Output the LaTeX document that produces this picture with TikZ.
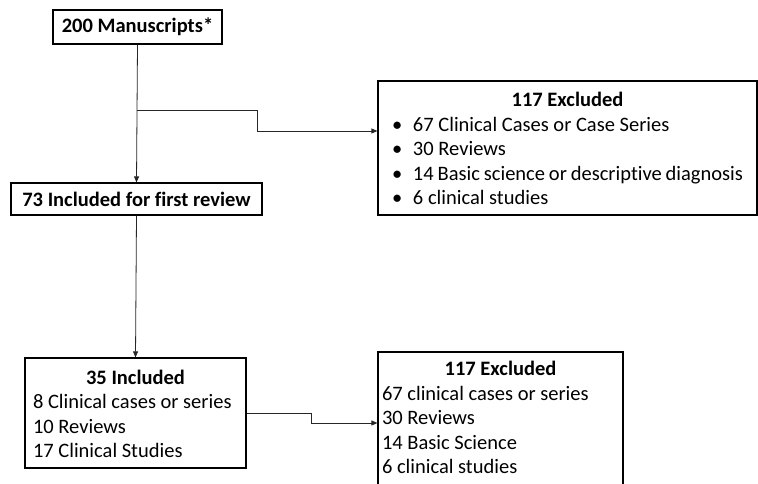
\documentclass[tikz,border=0pt]{standalone}
\usepackage{fontspec}
\setmainfont[Ligatures={NoCommon}]{Carlito}
\usetikzlibrary{arrows.meta}
\begin{document}
\begin{tikzpicture}[x=1pt,y=-1pt,
  box/.style={draw=black,line width=1.2pt,rectangle,inner ysep=0pt,
    font=\fontsize{20.5}{24.5}\selectfont},
  conn/.style={draw=black!85,line width=0.8pt},
  arr/.style={conn,-{Triangle[length=6pt,width=5pt]}}]
\useasboundingbox (0,0) rectangle (758,484);
\node[box,minimum width=169pt,minimum height=34pt,inner xsep=0pt] (box1) at (137.5,27) {\textbf{200 Manuscripts*}};
\node[box,minimum width=251pt,minimum height=32pt,inner xsep=0pt] (box2) at (136.5,199) {\textbf{73 Included for first review}};
\node[box,minimum width=379pt,minimum height=134pt,inner xsep=14pt] (box3) at (567.5,148) {%
  \begin{tabular}{@{}p{351pt}@{}}
  \multicolumn{1}{c}{\rule{0pt}{23pt}\textbf{117 Excluded}}\\
  \makebox[21pt][l]{\textbullet}67 Clinical Cases or Case Series\\
  \makebox[21pt][l]{\textbullet}30 Reviews\\
  \makebox[21pt][l]{\textbullet}14 Basic science or descriptive diagnosis\\
  \makebox[21pt][l]{\textbullet}6 clinical studies
  \end{tabular}};
\node[box,minimum width=221pt,minimum height=110pt,inner xsep=8pt] (box4) at (135.5,413) {%
  \begin{tabular}{@{}p{205pt}@{}}
  \multicolumn{1}{c}{\rule{0pt}{23pt}\textbf{35 Included}}\\
  8 Clinical cases or series\\
  10 Reviews\\
  17 Clinical Studies
  \end{tabular}};
\node[box,minimum width=245pt,minimum height=138pt,inner xsep=4pt] (box5) at (500.5,421) {%
  \begin{tabular}{@{}p{237pt}@{}}
  \multicolumn{1}{c}{\rule{0pt}{21pt}\textbf{117 Excluded}}\\
  67 clinical cases or series\\
  30 Reviews\\
  14 Basic Science\\
  6 clinical studies\rule[-13.4pt]{0pt}{1pt}
  \end{tabular}};
\coordinate (b1) at (136.5,110);
\draw[arr] (box1.south) -- (box2.north);
\draw[arr] (b1) -- (257,110) |- (box3.west |- 0,131);
\draw[arr] (box2.south) -- (box4.north);
\draw[arr] (box4.east) -- (311,413) |- (box5.west |- 0,423);
\end{tikzpicture}
\end{document}
